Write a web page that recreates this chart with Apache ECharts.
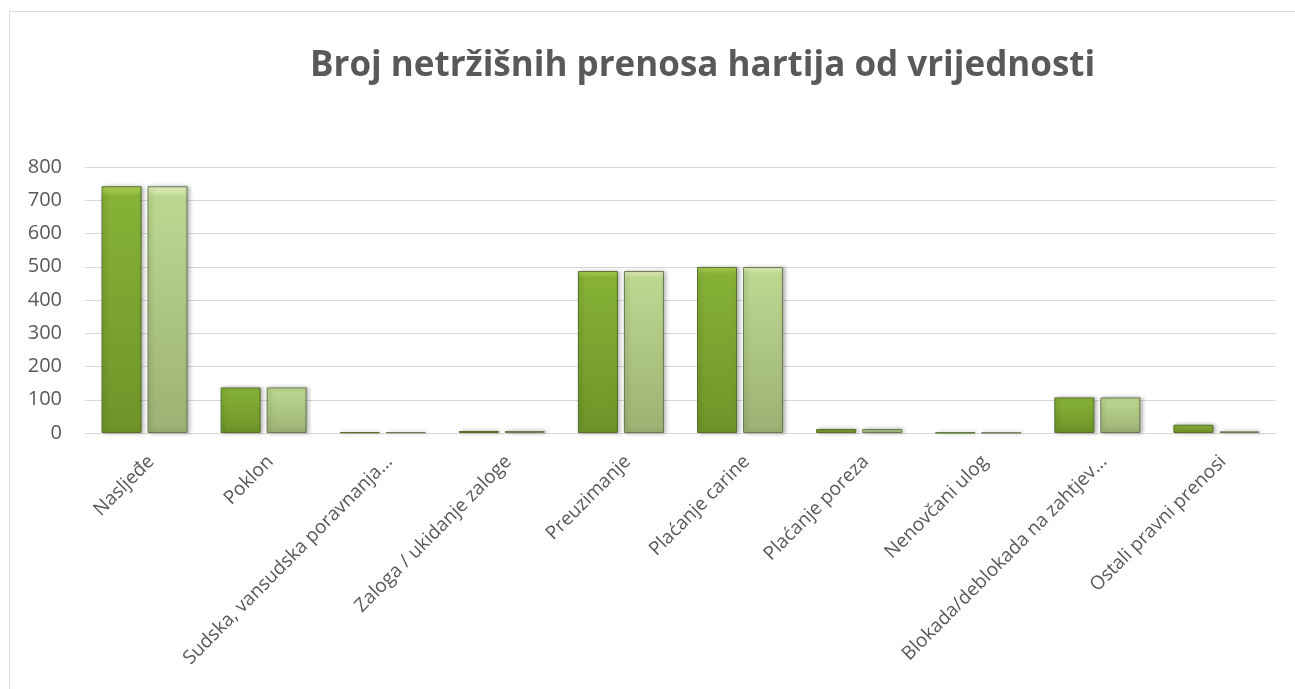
<!DOCTYPE html>
<html lang="sr">
<head>
    <meta charset="UTF-8">
    <script type="text/javascript" src="https://cdn.jsdelivr.net/npm/echarts@6/dist/echarts.min.js" charset="utf-8"></script>
    <title>Broj netržišnih prenosa hartija od vrijednosti</title>
    <style>
        html, body { margin: 0; padding: 0; background: #fff; }
        #main { width: 1295px; height: 689px; }
    </style>
</head>
<body>
<div id="main"></div>
<script>
// kategorije i vrijednosti procitane sa slike
var categories = ['Nasljeđe', 'Poklon', 'Sudska, vansudska poravnanja...', 'Zaloga / ukidanje zaloge',
    'Preuzimanje', 'Plaćanje carine', 'Plaćanje poreza', 'Nenovčani ulog',
    'Blokada/deblokada na zahtjev...', 'Ostali pravni prenosi'];
var seriesA = [742, 137, 2, 6, 487, 499, 12, 1, 107, 25];
var seriesB = [742, 137, 2, 6, 487, 499, 12, 1, 107, 5];
var yTicks = { min: 0, max: 800, interval: 100 };

var textColor = '#595959';

function grad(top, mid, bottom) {
    return new echarts.graphic.LinearGradient(0, 0, 0, 1, [
        { offset: 0, color: top },
        { offset: 0.04, color: mid },
        { offset: 1, color: bottom }
    ]);
}

var chartDom = document.getElementById('main');
var myChart = echarts.init(chartDom);
var option = {
    animation: false,
    title: {
        text: 'Broj netržišnih prenosa hartija od vrijednosti',
        left: 305,
        top: 44,
        textStyle: {
            fontFamily: 'Open Sans',
            fontSize: 35,
            fontWeight: 'bold',
            color: textColor
        }
    },
    graphic: [{
        type: 'rect',
        shape: { x: 9.5, y: 11.5, width: 1300, height: 700 },
        style: { fill: 'none', stroke: '#d9d9d9', lineWidth: 1 },
        silent: true
    }],
    grid: { left: 85, right: 19, top: 167, bottom: 256, containLabel: false },
    xAxis: {
        type: 'category',
        data: categories,
        axisTick: { show: false },
        axisLine: { lineStyle: { color: '#d9d9d9', width: 1 } },
        axisLabel: {
            rotate: 45,
            interval: 0,
            margin: 19,
            verticalAlign: 'top',
            fontFamily: 'Open Sans',
            fontSize: 19,
            color: textColor
        }
    },
    yAxis: {
        type: 'value',
        min: yTicks.min,
        max: yTicks.max,
        interval: yTicks.interval,
        axisLine: { show: false },
        axisTick: { show: false },
        splitLine: { lineStyle: { color: '#d9d9d9', width: 1 } },
        axisLabel: {
            margin: 23,
            fontFamily: 'Open Sans',
            fontSize: 20,
            color: textColor
        }
    },
    series: [
        {
            type: 'bar',
            data: seriesA,
            barWidth: 40,
            barGap: '15%',
            itemStyle: {
                color: grad('#b4d65a', '#86b236', '#6e9428'),
                borderColor: '#56702a',
                borderWidth: 1,
                shadowColor: 'rgba(0,0,0,0.3)',
                shadowBlur: 4,
                shadowOffsetX: 2
            }
        },
        {
            type: 'bar',
            data: seriesB,
            barWidth: 40,
            barGap: '15%',
            itemStyle: {
                color: grad('#eaf5c4', '#bcd890', '#9cb173'),
                borderColor: '#6b7a52',
                borderWidth: 1,
                shadowColor: 'rgba(0,0,0,0.3)',
                shadowBlur: 4,
                shadowOffsetX: 2
            }
        }
    ]
};
option && myChart.setOption(option);
</script>
</body>
</html>
